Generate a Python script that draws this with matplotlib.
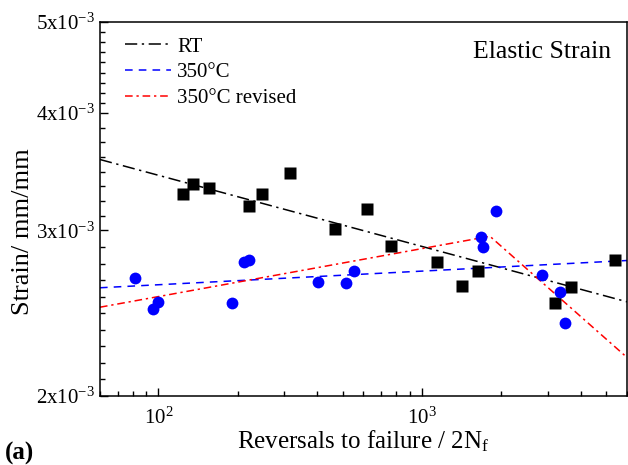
import numpy as np
import matplotlib
matplotlib.use('Agg')
import matplotlib.pyplot as plt
from matplotlib.ticker import FixedLocator, NullFormatter

# Elastic strain amplitude vs reversals to failure
rt_reversals = [123.8, 135.8, 155.7, 220.2, 247.4, 315.8, 467.9, 617.1, 760.8,
                1143, 1631, 1422, 3186, 3673, 5390]
rt_strain = [3.278e-3, 3.360e-3, 3.327e-3, 3.188e-3, 3.278e-3, 3.450e-3, 3.008e-3,
             3.160e-3, 2.888e-3, 2.780e-3, 2.719e-3, 2.618e-3, 2.510e-3, 2.609e-3,
             2.791e-3]

ht_reversals = [81.8, 95.7, 99.7, 190.3, 211.3, 220.8, 402.2, 514.9, 552.4,
                1674, 1703, 1913, 2859, 3346, 3486]
ht_strain = [2.670e-3, 2.477e-3, 2.516e-3, 2.510e-3, 2.778e-3, 2.788e-3, 2.646e-3,
             2.636e-3, 2.719e-3, 2.952e-3, 2.884e-3, 3.147e-3, 2.690e-3, 2.578e-3,
             2.390e-3]

# Basquin fits: strain = coef * (2Nf)^b
rt_coef, rt_b = 4.867e-3, -0.0757
ht_coef, ht_b = 2.457e-3, 0.0145

# revised 350C fit, bilinear in log-log
rev_reversals = [60, 1811, 6000]
rev_strain = [2.486e-3, 2.958e-3, 2.198e-3]

plt.rcParams['font.family'] = ['Liberation Serif', 'DejaVu Serif']
plt.rcParams['mathtext.fontset'] = 'custom'
plt.rcParams['mathtext.rm'] = 'Liberation Serif'
plt.rcParams['mathtext.it'] = 'Liberation Serif:italic'

fig = plt.figure(figsize=(6.28, 4.65), dpi=100)
ax = fig.add_axes([0.1592, 0.1484, 0.8392, 0.8043])

xfit = np.logspace(np.log10(60), np.log10(6000), 50)
ax.plot(xfit, rt_coef * xfit ** rt_b, color='black', lw=1.1,
        dashes=(8, 3, 1.5, 3), label='RT')
ax.plot(xfit, ht_coef * xfit ** ht_b, color='blue', lw=1.1,
        dashes=(5, 4), label='350°C')
ax.plot(rev_reversals, rev_strain, color='red', lw=1.1,
        dashes=(5, 2.5, 1.5, 2.5), label='350°C revised')

ax.plot(rt_reversals, rt_strain, 's', color='black', ms=8, mec='none')
ax.plot(ht_reversals, ht_strain, 'o', color='blue', ms=8.5, mec='none')

ax.set_xscale('log')
ax.set_yscale('log')
ax.set_xlim(60, 6000)
ax.set_ylim(2e-3, 5e-3)

ax.yaxis.set_major_locator(FixedLocator([2e-3, 3e-3, 4e-3, 5e-3]))
ax.set_yticklabels([r'$\mathregular{%dx10^{-3}}$' % v for v in [2, 3, 4, 5]])
# minor ticks evenly spaced between the major ones
yminor = []
for lo, hi, n in [(2e-3, 3e-3, 10), (3e-3, 4e-3, 8), (4e-3, 5e-3, 9)]:
    yminor += list(np.logspace(np.log10(lo), np.log10(hi), n + 1)[1:-1])
ax.yaxis.set_minor_locator(FixedLocator(yminor))
ax.yaxis.set_minor_formatter(NullFormatter())

ax.tick_params(which='both', direction='in', top=False, right=False,
               labelsize=15, width=1.0)
ax.tick_params(which='major', length=6)
ax.tick_params(which='minor', length=3.5)
ax.tick_params(axis='x', pad=8)
for s in ax.spines.values():
    s.set_linewidth(1.1)

ax.set_xlabel('Reversals to failure / 2N$_\\mathregular{f}$', fontsize=18, labelpad=0)
ax.set_ylabel('Strain/ mm/mm', fontsize=19)
ax.yaxis.set_label_coords(-0.125, 0.44)

ax.legend(loc='upper left', bbox_to_anchor=(0.032, 0.982), frameon=False,
          fontsize=15, handlelength=2.2, handletextpad=0.3, labelspacing=0.3,
          borderaxespad=0.0, borderpad=0.4)
ax.text(0.97, 0.95, 'Elastic Strain', transform=ax.transAxes,
        ha='right', va='top', fontsize=18.5)
fig.text(0.008, 0.0, '(a)', fontsize=18, fontweight='bold', ha='left', va='bottom')

plt.savefig('out.png', dpi=100)
